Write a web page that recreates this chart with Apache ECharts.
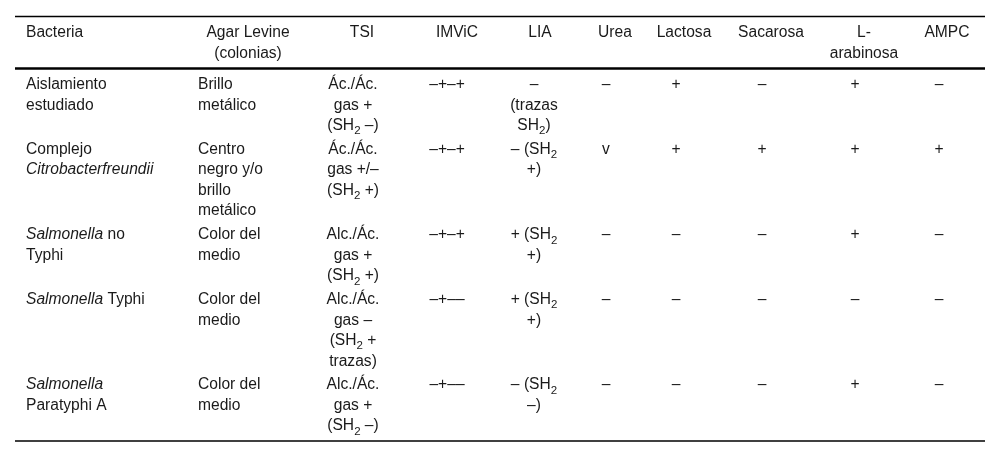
<!DOCTYPE html>
<html>
<head>
<meta charset="utf-8">
<script src="https://cdn.jsdelivr.net/npm/echarts@6/dist/echarts.min.js"></script>
<style>
html,body{margin:0;padding:0;background:#fff;}
#chart{width:1000px;height:458px;}
</style>
</head>
<body>
<div id="chart"></div>
<script>
// ---- data ----
var headers = ['Bacteria', 'Agar Levine\n(colonias)', 'TSI', 'IMViC', 'LIA', 'Urea', 'Lactosa', 'Sacarosa', 'L-\narabinosa', 'AMPC'];
var bacteria = ['Aislamiento\nestudiado', 'Complejo\n{i|Citrobacterfreundii}', '{i|Salmonella} no\nTyphi', '{i|Salmonella} Typhi', '{i|Salmonella}\nParatyphi A'];
var agarLevine = ['Brillo\nmetálico', 'Centro\nnegro y/o\nbrillo\nmetálico', 'Color del\nmedio', 'Color del\nmedio', 'Color del\nmedio'];
var tsi = ['Ác./Ác.\ngas +\n(SH{s|2} –)', 'Ác./Ác.\ngas +/–\n(SH{s|2} +)', 'Alc./Ác.\ngas +\n(SH{s|2} +)', 'Alc./Ác.\ngas –\n(SH{s|2} +\ntrazas)', 'Alc./Ác.\ngas +\n(SH{s|2} –)'];
var imvic = ['–+–+', '–+–+', '–+–+', '–+––', '–+––'];
var lia = ['–\n(trazas\nSH{s|2})', '– (SH{s|2}\n+)', '+ (SH{s|2}\n+)', '+ (SH{s|2}\n+)', '– (SH{s|2}\n–)'];
var urea = ['–', 'v', '–', '–', '–'];
var lactosa = ['+', '+', '–', '–', '–'];
var sacarosa = ['–', '+', '–', '–', '–'];
var arabinosa = ['+', '+', '+', '–', '+'];
var ampc = ['–', '+', '–', '–', '–'];

var columns = [bacteria, agarLevine, tsi, imvic, lia, urea, lactosa, sacarosa, arabinosa, ampc];

// ---- layout ----
var headX = [26, 248, 362, 457, 540, 615, 684, 771, 864, 947];
var headAlign = ['left', 'center', 'center', 'center', 'center', 'center', 'center', 'center', 'center', 'center'];
var bodyX = [26, 198, 353, 447, 534, 606, 676, 762, 855, 939];
var bodyAlign = ['left', 'left', 'center', 'center', 'center', 'center', 'center', 'center', 'center', 'center'];
var lineH = 20.5, rowGap = 3.3, firstRowY = 84.8, headY = 32.5, headLineH = 21;
var FONT = '"Liberation Sans", Arial, Helvetica, sans-serif';
var FS = 15.6, COLOR = '#1a1a1a';

var rich = {
  i: { fontStyle: 'italic', fontSize: FS, fontFamily: FONT, lineHeight: 20, fill: COLOR },
  s: { fontSize: 11.5, fontFamily: FONT, lineHeight: 4, padding: [11, 0, 0, 0], fill: COLOR }
};

function textEl(str, x, y, align) {
  return {
    type: 'text', x: x, y: y, silent: true,
    style: {
      text: str, fontSize: FS, fontFamily: FONT, fill: COLOR,
      align: align, verticalAlign: 'middle', lineHeight: 20, rich: rich
    }
  };
}

var els = [];
// horizontal rules
els.push({ type: 'line', shape: { x1: 15, y1: 16.5, x2: 985, y2: 16.5 }, style: { stroke: '#000', lineWidth: 1.4 } });
els.push({ type: 'line', shape: { x1: 15, y1: 68.5, x2: 985, y2: 68.5 }, style: { stroke: '#000', lineWidth: 2.6 } });
els.push({ type: 'line', shape: { x1: 15, y1: 441, x2: 985, y2: 441 }, style: { stroke: '#000', lineWidth: 1.4 } });

// header
headers.forEach(function (h, c) {
  h.split('\n').forEach(function (ln, k) {
    els.push(textEl(ln, headX[c], headY + k * headLineH, headAlign[c]));
  });
});

// body
var nRows = bacteria.length;
var y0 = firstRowY;
for (var r = 0; r < nRows; r++) {
  var maxLines = 1;
  columns.forEach(function (col, c) {
    var lines = col[r].split('\n');
    maxLines = Math.max(maxLines, lines.length);
    lines.forEach(function (ln, k) {
      els.push(textEl(ln, bodyX[c], y0 + k * lineH, bodyAlign[c]));
    });
  });
  y0 += maxLines * lineH + rowGap;
}

var chart = echarts.init(document.getElementById('chart'), null, { renderer: 'canvas' });
chart.setOption({
  backgroundColor: '#ffffff',
  animation: false,
  graphic: { elements: els }
});
</script>
</body>
</html>
